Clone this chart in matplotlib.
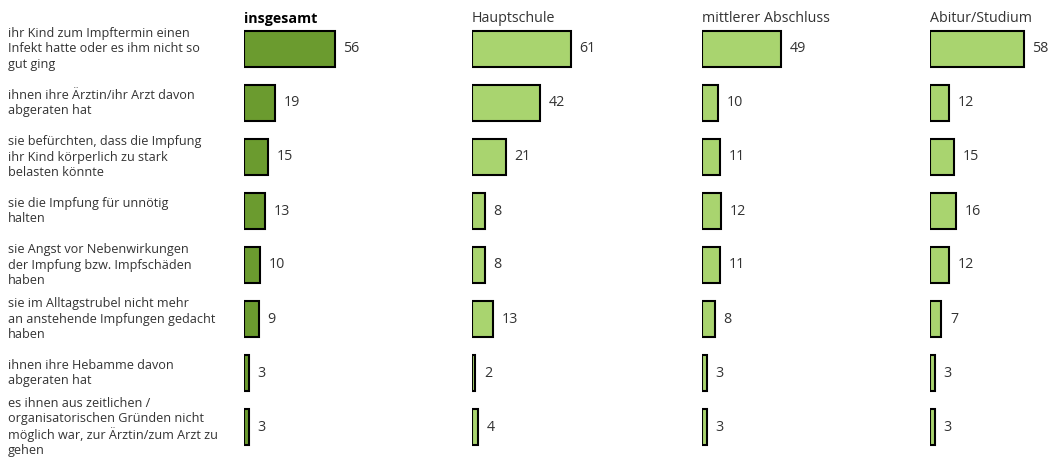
import numpy as np
import matplotlib.pyplot as plt
from matplotlib.transforms import blended_transform_factory

plt.rcParams['font.family'] = ['Open Sans', 'DejaVu Sans']

reasons = [
    "ihr Kind zum Impftermin einen\nInfekt hatte oder es ihm nicht so\ngut ging",
    "ihnen ihre Ärztin/ihr Arzt davon\nabgeraten hat",
    "sie befürchten, dass die Impfung\nihr Kind körperlich zu stark\nbelasten könnte",
    "sie die Impfung für unnötig\nhalten",
    "sie Angst vor Nebenwirkungen\nder Impfung bzw. Impfschäden\nhaben",
    "sie im Alltagstrubel nicht mehr\nan anstehende Impfungen gedacht\nhaben",
    "ihnen ihre Hebamme davon\nabgeraten hat",
    "es ihnen aus zeitlichen /\norganisatorischen Gründen nicht\nmöglich war, zur Ärztin/zum Arzt zu\ngehen",
]
groups = ["insgesamt", "Hauptschule", "mittlerer Abschluss", "Abitur/Studium"]
insgesamt = [56, 19, 15, 13, 10, 9, 3, 3]
hauptschule = [61, 42, 21, 8, 8, 13, 2, 4]
mittlerer = [49, 10, 11, 12, 11, 8, 3, 3]
abitur = [58, 12, 15, 16, 12, 7, 3, 3]
series = [insgesamt, hauptschule, mittlerer, abitur]
colors = ["#6b9b2f", "#a9d46f", "#a9d46f", "#a9d46f"]

W, H = 1052, 461
fig = plt.figure(figsize=(W / 100, H / 100), dpi=100)

px = 1.62            # pixels per percentage point
xmax = 80
lefts = [244, 472, 702, 930]
top, bottom = 22, 454
y = np.arange(len(reasons))

for i, (vals, name, col, left) in enumerate(zip(series, groups, colors, lefts)):
    ax = fig.add_axes([left / W, (H - bottom) / H, xmax * px / W, (bottom - top) / H])
    ax.barh(y, vals, height=0.67, color=col, edgecolor="black", linewidth=1.5)
    for yi, v in zip(y, vals):
        ax.text(v + 5.3, yi, str(v), va="center", ha="left", fontsize=10.3, color="#333333")
    ax.set_xlim(0, xmax)
    ax.set_ylim(len(reasons) - 0.5, -0.5)
    ax.axis("off")
    fig.text(left / W, 1 - 19 / H, name, ha="left", va="center", fontsize=10.3,
             fontweight="bold" if i == 0 else "normal", color="black" if i == 0 else "#333333")
    if i == 0:
        tr = blended_transform_factory(fig.transFigure, ax.transData)
        for yi, lab in zip(y, reasons):
            ax.text(8 / W, yi, lab, transform=tr, ha="left", va="center",
                    fontsize=9.1, color="#333333", linespacing=1.22)

fig.savefig("out.png", dpi=100)
